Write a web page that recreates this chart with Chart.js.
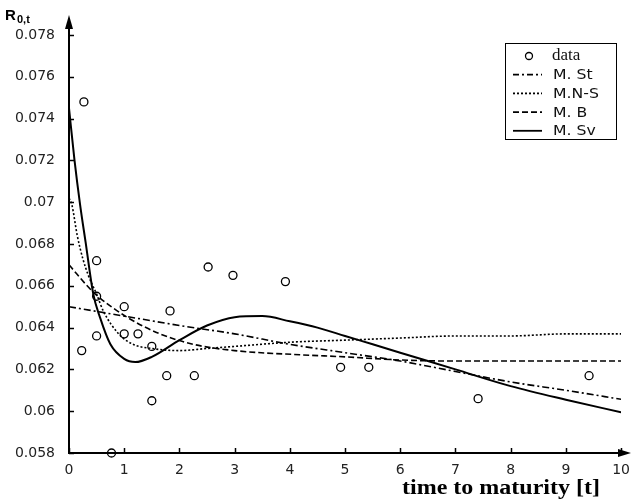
<!DOCTYPE html>
<html>
<head>
<meta charset="utf-8">
<script src="https://cdn.jsdelivr.net/npm/chart.js@4.4.1/dist/chart.umd.min.js"></script>
<style>
  html, body { margin: 0; padding: 0; background: #fff; }
  #wrap { width: 631px; height: 502px; }
</style>
</head>
<body>
<div id="wrap"><canvas id="rchart"></canvas></div>
<script>
// observed zero rates
var dataT = [0.23, 0.27, 0.5, 0.5, 0.5, 0.77, 1.0, 1.0, 1.25, 1.5, 1.5, 1.77, 1.83, 2.27, 2.52, 2.97, 3.92, 4.92, 5.43, 7.41, 9.42];
var dataR = [0.0629, 0.0748, 0.0672, 0.0655, 0.0636, 0.0580, 0.0650, 0.0637, 0.0637, 0.0631, 0.0605, 0.0617, 0.0648, 0.0617, 0.0669, 0.0665, 0.0662, 0.0621, 0.0621, 0.0606, 0.0617];

// fitted curves
var stT = [0, 1, 2, 3, 4, 5, 6, 7, 8, 9, 10];
var stR = [0.0650, 0.06455, 0.0641, 0.0637, 0.0632, 0.0628, 0.0624, 0.0619, 0.0614, 0.0610, 0.06057];

var nsT = [0, 0.05, 0.15, 0.25, 0.35, 0.5, 0.62, 0.9, 1.16, 1.5, 2, 2.5, 3, 4, 5, 6, 7, 8, 9, 10];
var nsR = [0.0702, 0.0699, 0.0684, 0.0673, 0.0665, 0.0656, 0.0648, 0.0637, 0.0632, 0.0630, 0.0629, 0.0630, 0.0631, 0.0633, 0.0634, 0.0635, 0.0636, 0.0636, 0.0637, 0.0637];

var bT = [0, 0.44, 1.05, 1.65, 2.25, 3, 4.18, 5, 6, 7, 8, 9, 10];
var bR = [0.0670, 0.0657, 0.0645, 0.0637, 0.0632, 0.0629, 0.0627, 0.0626, 0.06245, 0.0624, 0.0624, 0.0624, 0.0624];

var svT = [0, 0.1, 0.2, 0.3, 0.44, 0.56, 0.75, 1.0, 1.2, 1.5, 2, 2.5, 3, 3.5, 4, 4.5, 5, 5.5, 6, 7, 8, 9, 10];
var svR = [0.0745, 0.0720, 0.0699, 0.0681, 0.0656, 0.0645, 0.0632, 0.0625, 0.06235, 0.0626, 0.0634, 0.0641, 0.0645, 0.06455, 0.0643, 0.0640, 0.0636, 0.0632, 0.0628, 0.0620, 0.0612, 0.06055, 0.05995];

var yTicks = [0.058, 0.078, 0.002];
var xTicks = [0, 10, 1];

function pts(t, r) {
    return t.map(function (v, i) { return { x: v, y: r[i] }; });
}

var legendItems = [
    { label: 'data', dash: null, serif: true },
    { label: 'M. St', dash: [6, 3, 2, 3] },
    { label: 'M.N-S', dash: [2, 2] },
    { label: 'M. B', dash: [6, 3] },
    { label: 'M. Sv', dash: [] }
];

// draw text squeezed/stretched horizontally to a given width
function fitText(ctx, txt, x, y, w) {
    var m = ctx.measureText(txt).width;
    ctx.save();
    ctx.translate(x, y);
    ctx.scale(w / m, 1);
    ctx.fillText(txt, 0, 0);
    ctx.restore();
}

var axisDeco = {
    id: 'axisDeco',
    afterDraw: function (chart) {
        var ctx = chart.ctx;
        var a = chart.chartArea;
        var xs = chart.scales.x, ys = chart.scales.y;
        ctx.save();
        ctx.strokeStyle = '#000';
        ctx.fillStyle = '#000';
        ctx.lineWidth = 1.5;
        ctx.setLineDash([]);
        // inward tick marks
        ys.ticks.forEach(function (t) {
            var py = Math.round(ys.getPixelForValue(t.value)) + 0.5;
            ctx.beginPath(); ctx.moveTo(a.left, py); ctx.lineTo(a.left + 5, py); ctx.stroke();
        });
        xs.ticks.forEach(function (t) {
            var px = Math.round(xs.getPixelForValue(t.value)) + 0.5;
            ctx.beginPath(); ctx.moveTo(px, a.bottom); ctx.lineTo(px, a.bottom - 5); ctx.stroke();
        });
        // arrows
        ctx.lineWidth = 2;
        ctx.beginPath(); ctx.moveTo(a.left, a.top); ctx.lineTo(a.left, 24); ctx.stroke();
        ctx.beginPath(); ctx.moveTo(a.left, 15); ctx.lineTo(a.left - 4, 29); ctx.lineTo(a.left + 4, 29); ctx.closePath(); ctx.fill();
        ctx.beginPath(); ctx.moveTo(a.right, a.bottom); ctx.lineTo(624, a.bottom); ctx.stroke();
        ctx.beginPath(); ctx.moveTo(631, a.bottom); ctx.lineTo(618, a.bottom - 4); ctx.lineTo(618, a.bottom + 4); ctx.closePath(); ctx.fill();

        // axis titles
        ctx.textBaseline = 'alphabetic';
        ctx.textAlign = 'left';
        ctx.font = 'bold 15px "Liberation Sans", Arial, sans-serif';
        ctx.fillText('R', 5, 20);
        ctx.font = 'bold 11px "Liberation Sans", Arial, sans-serif';
        ctx.fillText('0,t', 17, 23);
        ctx.font = 'bold 20px "Liberation Serif", "Times New Roman", serif';
        fitText(ctx, 'time to maturity [t]', 402, 494, 198);

        // legend
        var lx = 505, ly = 43, lw = 111, lh = 96;
        ctx.fillStyle = '#fff';
        ctx.fillRect(lx, ly, lw, lh);
        ctx.lineWidth = 1;
        ctx.strokeStyle = '#000';
        ctx.strokeRect(lx + 0.5, ly + 0.5, lw, lh);
        ctx.fillStyle = '#111';
        legendItems.forEach(function (it, i) {
            var cy = ly + 13 + i * 18.7;
            if (it.dash === null) {
                ctx.lineWidth = 1.3;
                ctx.setLineDash([]);
                ctx.beginPath(); ctx.arc(lx + 24, cy, 3.5, 0, Math.PI * 2); ctx.stroke();
            } else {
                ctx.lineWidth = 1.8;
                ctx.setLineDash(it.dash);
                ctx.beginPath(); ctx.moveTo(lx + 8, cy); ctx.lineTo(lx + 37, cy); ctx.stroke();
            }
            ctx.setLineDash([]);
            ctx.textBaseline = 'middle';
            if (it.serif) {
                ctx.font = '17px "Liberation Serif", serif';
                ctx.fillText(it.label, lx + 47, cy);
            } else {
                ctx.font = '14px "DejaVu Sans", sans-serif';
                var w = ctx.measureText(it.label).width * 1.12;
                fitText(ctx, it.label, lx + 48, cy + 1, w);
            }
        });
        ctx.restore();
    }
};

function lineSet(label, t, r, dash, width) {
    return {
        type: 'line',
        label: label,
        data: pts(t, r),
        borderColor: '#000',
        borderWidth: width,
        borderDash: dash,
        pointRadius: 0,
        fill: false,
        cubicInterpolationMode: 'monotone'
    };
}

var tickFont = { size: 14, family: '"DejaVu Sans", sans-serif' };

var ctx = document.getElementById('rchart').getContext('2d');
var chart = new Chart(ctx, {
    type: 'scatter',
    data: {
        datasets: [
            {
                label: 'data',
                data: pts(dataT, dataR),
                pointStyle: 'circle',
                pointRadius: 4,
                borderColor: '#000',
                borderWidth: 1.3,
                backgroundColor: 'rgba(0,0,0,0)',
                clip: false
            },
            lineSet('M. St', stT, stR, [7, 3, 2, 3], 1.6),
            lineSet('M.N-S', nsT, nsR, [2, 2], 1.6),
            lineSet('M. B', bT, bR, [6, 3], 1.6),
            lineSet('M. Sv', svT, svR, [], 2)
        ]
    },
    options: {
        responsive: true,
        maintainAspectRatio: false,
        animation: false,
        layout: { padding: { top: 35, right: 9, left: 0, bottom: 0 } },
        plugins: {
            legend: { display: false },
            tooltip: { enabled: false }
        },
        scales: {
            x: {
                type: 'linear',
                min: xTicks[0], max: xTicks[1],
                ticks: { stepSize: xTicks[2], color: '#222', padding: 1, font: tickFont },
                grid: { display: false },
                border: { color: '#000', width: 2 },
                afterFit: function (s) { s.height = 49; }
            },
            y: {
                min: yTicks[0], max: yTicks[1],
                ticks: {
                    stepSize: yTicks[2], color: '#222', padding: 6, font: tickFont,
                    callback: function (v) { return String(Number(v.toFixed(3))); }
                },
                grid: { display: false },
                border: { color: '#000', width: 2 },
                afterFit: function (s) { s.width = 69; }
            }
        }
    },
    plugins: [axisDeco]
});
</script>
</body>
</html>
